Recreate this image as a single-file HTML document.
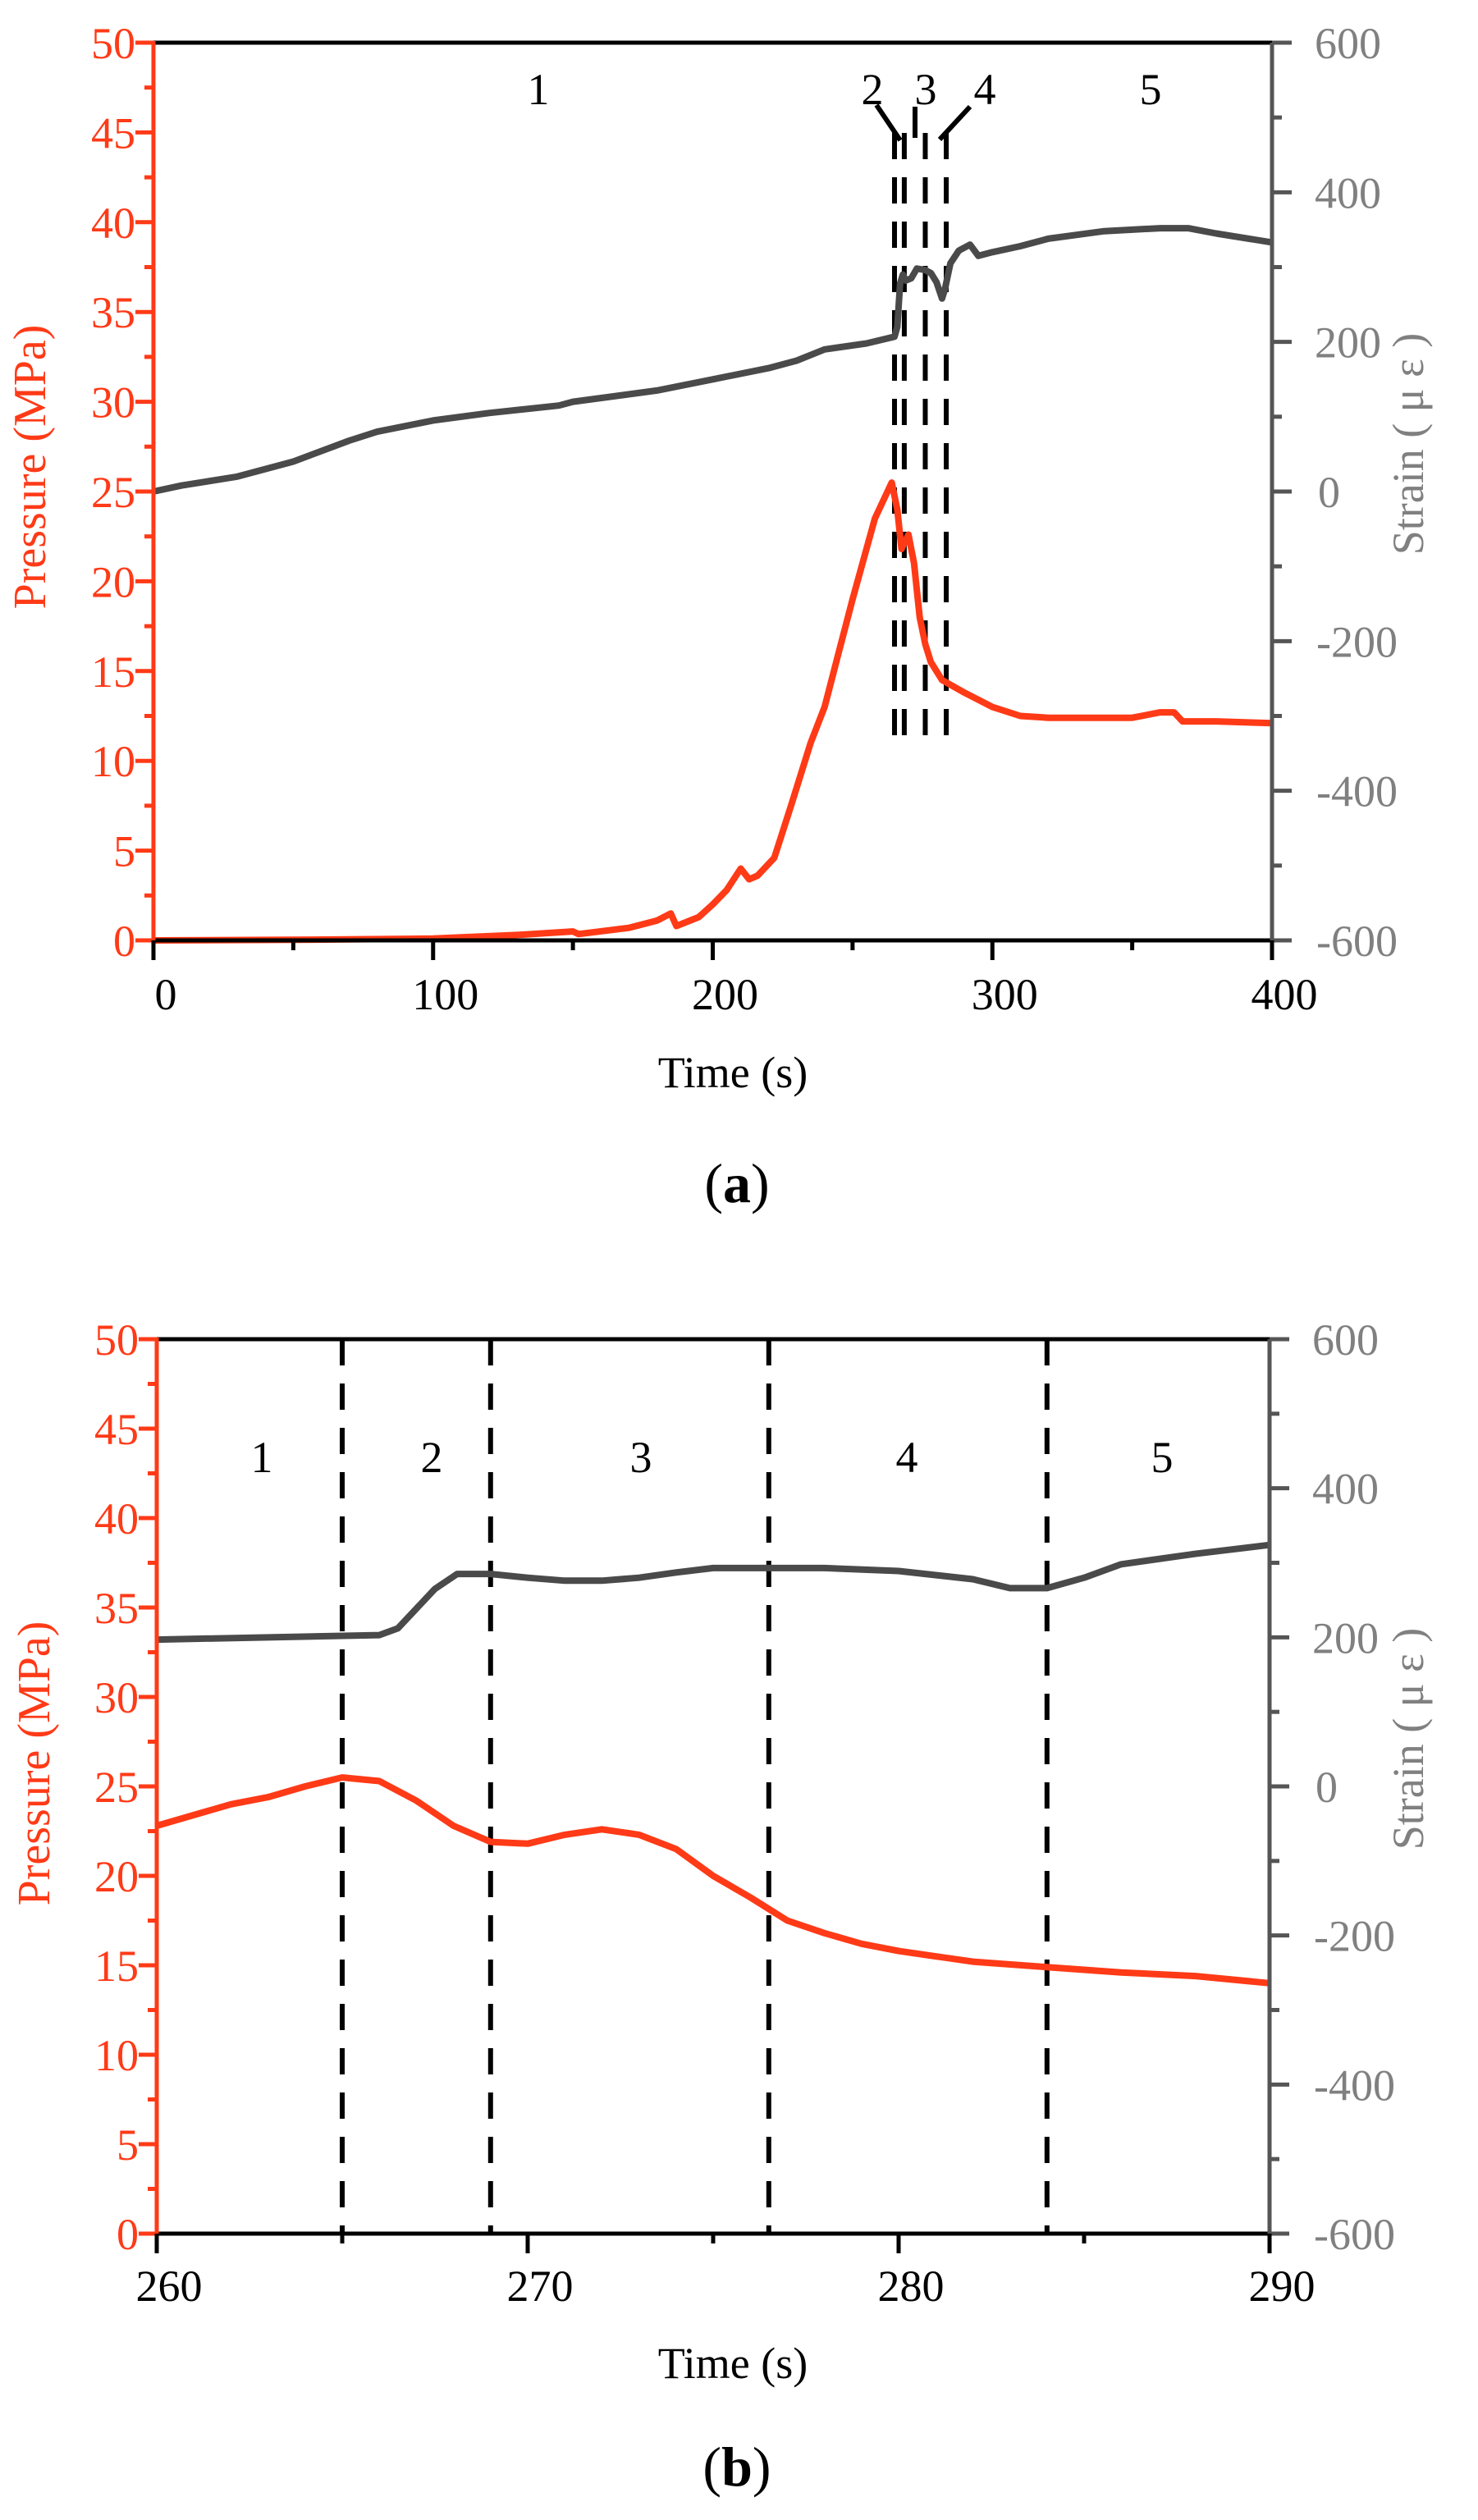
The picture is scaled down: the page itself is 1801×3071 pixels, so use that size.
<!DOCTYPE html>
<html><head><meta charset="utf-8">
<style>
html,body{margin:0;padding:0;background:#fff;}
svg{display:block;}
text{font-family:"Liberation Serif",serif;}
</style></head>
<body>
<svg id="s" width="1801" height="3071" xmlns="http://www.w3.org/2000/svg"></svg>
<script>
const S=document.getElementById('s');let h='';
const RED='#ff3a17',GL='#808080',GA='#555',GC='#4a4a4a';
function chart(o){
 const {L,R,T,B,t0,t1}=o;
 const X=t=>L+(t-t0)/(t1-t0)*(R-L);
 const PY=p=>B-p/50*(B-T);
 const SY=s=>B-(s+600)/1200*(B-T);
 o.dash.forEach(t=>{h+=`<line x1="${X(t)}" y1="${o.dT}" x2="${X(t)}" y2="${o.dB}" stroke="#000" stroke-width="6" stroke-dasharray="32,22"/>`;});
 (o.lead||[]).forEach(l=>{h+=`<line x1="${l[0]}" y1="${l[1]}" x2="${l[2]}" y2="${l[3]}" stroke="#000" stroke-width="6"/>`;});
 h+=`<polyline fill="none" stroke="${GC}" stroke-width="8" stroke-linejoin="round" points="${o.sd.map(d=>X(d[0]).toFixed(1)+','+SY(d[1]).toFixed(1)).join(' ')}"/>`;
 h+=`<polyline fill="none" stroke="${RED}" stroke-width="8" stroke-linejoin="round" points="${o.pd.map(d=>X(d[0]).toFixed(1)+','+PY(d[1]).toFixed(1)).join(' ')}"/>`;
 h+=`<line x1="${L}" y1="${T}" x2="${R}" y2="${T}" stroke="#000" stroke-width="5"/>`;
 h+=`<line x1="${L}" y1="${B}" x2="${R}" y2="${B}" stroke="#000" stroke-width="5"/>`;
 h+=`<line x1="${L}" y1="${T-2}" x2="${L}" y2="${B+2}" stroke="${RED}" stroke-width="5"/>`;
 h+=`<line x1="${R}" y1="${T}" x2="${R}" y2="${B+2}" stroke="${GA}" stroke-width="5"/>`;
 for(let p=0;p<=50;p+=2.5){const y=PY(p),maj=p%5==0;
  h+=`<line x1="${L-(maj?22:11)}" y1="${y}" x2="${L}" y2="${y}" stroke="${RED}" stroke-width="5"/>`;
  if(maj)h+=`<text x="${L-22}" y="${y+19}" font-size="54" fill="${RED}" text-anchor="end">${p}</text>`;}
 for(let s=-600;s<=600;s+=100){const y=SY(s),maj=s%200==0;
  h+=`<line x1="${R}" y1="${y}" x2="${R+(maj?24:12)}" y2="${y}" stroke="${GA}" stroke-width="5"/>`;
  if(maj)h+=`<text x="${s<0?R+54:(s==0?R+56:R+52)}" y="${y+19}" font-size="54" fill="${GL}">${s}</text>`;}
 const n=o.nx;
 for(let i=0;i<=n;i++){const t=t0+i*(t1-t0)/n,x=X(t),maj=i%2==0;
  h+=`<line x1="${x}" y1="${B}" x2="${x}" y2="${B+(maj?24:12)}" stroke="#000" stroke-width="5"/>`;
  if(maj)h+=`<text x="${x+15}" y="${o.xly}" font-size="54" fill="#000" text-anchor="middle">${t}</text>`;}
 h+=`<text x="893" y="${o.tly}" font-size="54" text-anchor="middle">Time (s)</text>`;
 h+=`<text transform="translate(${o.pl[0]},${o.pl[1]}) rotate(-90)" font-size="56" fill="${RED}" text-anchor="middle">Pressure (MPa)</text>`;
 h+=`<text transform="translate(${o.sl[0]},${o.sl[1]}) rotate(-90)" font-size="54" fill="${GL}" text-anchor="middle">Strain ( μ ε )</text>`;
 h+=`<text x="898" y="${o.cap[1]}" font-size="68" text-anchor="middle">(<tspan font-weight="bold">${o.cap[0]}</tspan>)</text>`;
 o.nums.forEach(m=>{h+=`<text x="${m[1]}" y="${m[2]}" font-size="54" text-anchor="middle">${m[0]}</text>`;});
}
chart({L:187,R:1550,T:52,B:1146,t0:0,t1:400,nx:8,xly:1230,tly:1325,pl:[55,569],sl:[1734,541],cap:['a',1465],
 dash:[265,268.5,276,283.5],dT:162,dB:912,
 lead:[[1068,128],[1097,171]].length?[[1068,128,1097,171],[1115,130,1115,168],[1182,130,1145,170]]:[],
 nums:[['1',656,127],['2',1063,127],['3',1128,127],['4',1200,127],['5',1402,127]],
 pd:[[0,0],[50,0.03],[100,0.1],[130,0.3],[150,0.5],[152,0.35],[170,0.7],[180,1.1],[185,1.5],[187,0.8],[195,1.3],[200,2],[205,2.8],[210,4],[213,3.4],[216,3.6],[222,4.6],[228,7.5],[235,11],[240,13],[245,16],[250,19],[258,23.5],[264,25.5],[266,24],[267.5,21.8],[270,22.6],[272,21],[274,18],[276,16.5],[278,15.5],[282,14.5],[290,13.8],[300,13],[310,12.5],[320,12.4],[350,12.4],[360,12.7],[365,12.7],[368,12.2],[380,12.2],[400,12.1]],
 sd:[[0,0],[10,8],[30,20],[50,40],[70,68],[80,80],[100,95],[120,105],[145,115],[150,120],[180,135],[200,150],[220,165],[230,175],[240,190],[255,198],[265,207],[266,220],[267,278],[268,290],[269,282],[271,285],[273,298],[276,296],[278,292],[280,280],[282,258],[283,270],[285,305],[288,322],[292,330],[295,315],[300,320],[310,328],[320,338],[340,348],[360,352],[370,352],[380,345],[400,333]]
});
chart({L:191,R:1547,T:1632,B:2722,t0:260,t1:290,nx:6,xly:2804,tly:2898,pl:[60,2149],sl:[1734,2119],cap:['b',3029],
 dash:[265,269,276.5,284],dT:1632,dB:2722,
 nums:[['1',319,1794],['2',526,1794],['3',781,1794],['4',1105,1794],['5',1416,1794]],
 pd:[[260,22.8],[261,23.4],[262,24],[263,24.4],[264,25],[265,25.5],[266,25.3],[267,24.2],[268,22.8],[269,21.9],[270,21.8],[271,22.3],[272,22.6],[273,22.3],[274,21.5],[275,20],[276,18.8],[277,17.5],[278,16.8],[279,16.2],[280,15.8],[282,15.2],[284,14.9],[286,14.6],[288,14.4],[290,14]],
 sd:[[260,197],[266,203],[266.5,212],[267.5,265],[268.1,285],[269,285],[270,280],[271,276],[272,276],[273,280],[274,287],[275,293],[278,293],[280,289],[282,278],[283,266],[284,266],[285,280],[286,298],[288,312],[290,324]]
});
S.innerHTML=h;
</script>
</body></html>
